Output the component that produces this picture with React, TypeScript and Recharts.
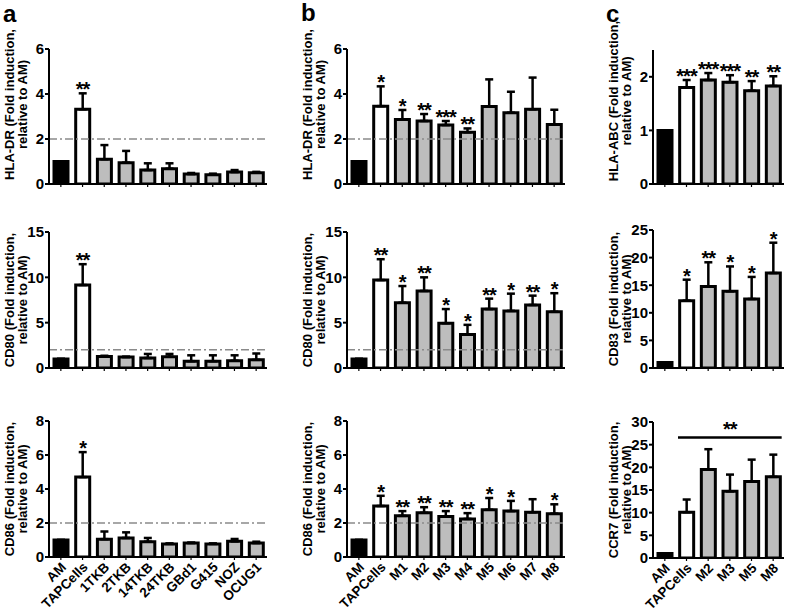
import React from 'react';
import { ComposedChart, Bar, Line, XAxis, YAxis, Cell, ErrorBar, LabelList, ReferenceLine } from 'recharts';

const FONT = "Arial, 'Liberation Sans', Helvetica, sans-serif";

// categories
const groupA = ['AM', 'TAPCells', '1TKB', '2TKB', '14TKB', '24TKB', 'GBd1', 'G415', 'NOZ', 'OCUG1'];
const groupB = ['AM', 'TAPCells', 'M1', 'M2', 'M3', 'M4', 'M5', 'M6', 'M7', 'M8'];
const groupC = ['AM', 'TAPCells', 'M2', 'M3', 'M5', 'M8'];

// panel a (mean, top of error bar, significance)
const aHlaDr = [1.0, 3.32, 1.1, 0.95, 0.62, 0.68, 0.44, 0.41, 0.53, 0.5];
const aHlaDrHi = [1.0, 4.03, 1.73, 1.47, 0.92, 0.92, 0.49, 0.46, 0.62, 0.54];
const aHlaDrSig = ['', '**', '', '', '', '', '', '', '', ''];
const aCd80 = [1.0, 9.15, 1.28, 1.2, 1.1, 1.25, 0.75, 0.75, 0.8, 0.9];
const aCd80Hi = [1.0, 11.45, 1.35, 1.25, 1.55, 1.55, 1.4, 1.4, 1.4, 1.6];
const aCd80Sig = ['', '**', '', '', '', '', '', '', '', ''];
const aCd86 = [1.0, 4.7, 1.05, 1.12, 0.9, 0.77, 0.82, 0.77, 0.92, 0.82];
const aCd86Hi = [1.0, 6.17, 1.5, 1.45, 1.12, 0.8, 0.85, 0.8, 1.06, 0.9];
const aCd86Sig = ['', '*', '', '', '', '', '', '', '', ''];

// panel b
const bHlaDr = [1.0, 3.46, 2.87, 2.8, 2.62, 2.3, 3.44, 3.17, 3.32, 2.65];
const bHlaDrHi = [1.0, 4.34, 3.29, 3.11, 2.8, 2.47, 4.65, 4.1, 4.73, 3.3];
const bHlaDrSig = ['', '*', '*', '**', '***', '**', '', '', '', ''];
const bCd80 = [1.0, 9.7, 7.2, 8.5, 4.94, 3.7, 6.5, 6.3, 6.95, 6.2];
const bCd80Hi = [1.0, 12.0, 9.04, 10.0, 6.5, 4.76, 7.65, 8.2, 7.98, 8.25];
const bCd80Sig = ['', '**', '*', '**', '*', '*', '**', '*', '**', '*'];
const bCd86 = [1.0, 3.0, 2.42, 2.6, 2.38, 2.24, 2.78, 2.7, 2.63, 2.55];
const bCd86Hi = [1.0, 3.6, 2.7, 2.93, 2.7, 2.58, 3.47, 3.3, 3.4, 3.1];
const bCd86Sig = ['', '*', '**', '**', '**', '**', '*', '*', '', '*'];

// panel c
const cHlaAbc = [1.0, 1.8, 1.94, 1.9, 1.74, 1.83];
const cHlaAbcHi = [1.0, 1.94, 2.07, 2.03, 1.92, 2.01];
const cHlaAbcSig = ['', '***', '***', '***', '**', '**'];
const cCd83 = [1.0, 12.2, 14.75, 13.9, 12.5, 17.2];
const cCd83Hi = [1.0, 16.0, 19.15, 18.4, 16.5, 22.7];
const cCd83Sig = ['', '*', '**', '*', '*', '*'];
const cCcr7 = [1.0, 10.1, 19.5, 14.7, 16.9, 17.9];
const cCcr7Hi = [1.0, 12.9, 24.0, 18.4, 21.7, 22.8];
const cCcr7Sig = ['', '', '', '', '', ''];
const cCcr7Bracket = { from: 'TAPCells', to: 'M8', level: 26.6, text: '**' };

// y axis ticks
const ticks6 = [0, 2, 4, 6];
const ticks15 = [0, 5, 10, 15];
const ticks8 = [0, 2, 4, 6, 8];
const ticksAbc = [0, 1, 2];
const ticks25 = [0, 5, 10, 15, 20, 25];
const ticks30 = [0, 5, 10, 15, 20, 25, 30];

const fillFor = (name: string) => (name === 'AM' ? '#000' : name === 'TAPCells' ? '#fff' : '#bdbdbd');

const buildRows = (names: string[], vals: number[], hi: number[], sig: string[]) =>
  names.map((name, i) => ({
    name,
    value: vals[i],
    err: [0, Math.max(hi[i] - vals[i], 0)],
    top: hi[i],
    sig: sig[i],
  }));

const StarLabel = (props: any) => {
  const { x, y, value } = props;
  if (!value) return null;
  return (
    <text x={x} y={y + 3} textAnchor="middle" fontSize={20} fontWeight="bold" fontFamily={FONT} fill="#000" letterSpacing={-1}>
      {value}
    </text>
  );
};

const NoTick = () => <g />;

const SlantTick = ({ x, y, payload }: any) => {
  const tx = x + 6;
  const ty = y + 6;
  return (
    <text x={tx} y={ty} transform={`rotate(-45 ${tx} ${ty})`} textAnchor="end" fontSize={13.5} fontWeight="bold" fontFamily={FONT} fill="#000">
      {payload.value}
    </text>
  );
};

interface PanelProps {
  rows: any[];
  left: number;
  top: number;
  width: number;
  height: number;
  axisX: number;
  plotTop: number;
  plotBottom: number;
  plotRight: number;
  max: number;
  ticks: number[];
  title: string;
  labelShift?: number;
  slanted?: boolean;
  cutoff?: boolean;
  bracket?: { from: string; to: string; level: number; text: string };
}

const Panel = ({ rows, left, top, width, height, axisX, plotTop, plotBottom, plotRight, max, ticks, title, labelShift = 0, slanted, cutoff, bracket }: PanelProps) => {
  const yAxisWidth = axisX - left;
  const xAxisHeight = top + height - plotBottom;
  const midY = (plotTop + plotBottom) / 2 - top + labelShift;

  const AxisTitle = () => (
    <g fontFamily={FONT} fontWeight="bold" fontSize={13} fill="#000">
      <text x={yAxisWidth - 40} y={midY} transform={`rotate(-90 ${yAxisWidth - 40} ${midY})`} textAnchor="middle" dominantBaseline="central">
        {title}
      </text>
      <text x={yAxisWidth - 27} y={midY} transform={`rotate(-90 ${yAxisWidth - 27} ${midY})`} textAnchor="middle" dominantBaseline="central">
        relative to AM)
      </text>
    </g>
  );

  const BracketShape = (p: any) => {
    const x1 = p.x1 - 8.5;
    const x2 = p.x2 + 8.5;
    return (
      <g>
        <line x1={x1} x2={x2} y1={p.y1} y2={p.y2} stroke="#000" strokeWidth={2.5} />
        <text x={(x1 + x2) / 2} y={p.y1 - 1} textAnchor="middle" fontSize={20} fontWeight="bold" fontFamily={FONT} letterSpacing={-1}>
          {bracket?.text}
        </text>
      </g>
    );
  };

  return (
    <div style={{ position: 'absolute', left, top, width, height }}>
      <ComposedChart width={width} height={height} data={rows} margin={{ top: plotTop - top, right: left + width - plotRight, left: 0, bottom: 0 }}>
        <XAxis
          dataKey="name"
          type="category"
          height={xAxisHeight}
          padding={{ left: 1, right: 0 }}
          axisLine={{ stroke: '#000', strokeWidth: 2 }}
          tickLine={{ stroke: '#000', strokeWidth: 1.2 }}
          tickSize={3}
          interval={0}
          tick={slanted ? <SlantTick /> : <NoTick />}
        />
        <YAxis
          type="number"
          domain={[0, max]}
          ticks={ticks}
          interval={0}
          allowDataOverflow
          width={yAxisWidth}
          axisLine={{ stroke: '#000', strokeWidth: 2 }}
          tickLine={{ stroke: '#000', strokeWidth: 2 }}
          tickSize={4}
          tickMargin={1}
          tick={{ fill: '#000', fontSize: 15, fontWeight: 'bold', fontFamily: FONT }}
          label={<AxisTitle />}
        />
        <Bar dataKey="value" barSize={14} stroke="#000" strokeWidth={3} isAnimationActive={false}>
          {rows.map((r) => (
            <Cell key={r.name} fill={fillFor(r.name)} />
          ))}
          <ErrorBar dataKey="err" direction="y" width={4} stroke="#000" strokeWidth={2.5} />
        </Bar>
        {cutoff && <ReferenceLine y={2} stroke="#8a8a8a" strokeWidth={1.5} strokeDasharray="8 3 2 3" />}
        <Line dataKey="top" stroke="none" dot={false} activeDot={false} isAnimationActive={false} legendType="none">
          <LabelList dataKey="sig" content={<StarLabel />} />
        </Line>
        {bracket && (
          <ReferenceLine
            segment={[{ x: bracket.from, y: bracket.level }, { x: bracket.to, y: bracket.level }]}
            shape={<BracketShape />}
          />
        )}
      </ComposedChart>
    </div>
  );
};

const Letter = ({ text, left, top }: { text: string; left: number; top: number }) => (
  <div style={{ position: 'absolute', left, top, fontFamily: FONT, fontWeight: 'bold', fontSize: 24, lineHeight: 1, color: '#000' }}>{text}</div>
);

const ROW1 = { top: 0, height: 196, plotTop: 49, plotBottom: 184 };
const ROW2 = { top: 198, height: 182, plotTop: 232, plotBottom: 368 };
const ROW3 = { top: 384, height: 229, plotTop: 421, plotBottom: 557 };
const COLA = { left: 0, width: 272, axisX: 49, plotRight: 267 };
const COLB = { left: 290, width: 280, axisX: 347, plotRight: 565 };
const COLC = { left: 596, width: 191, axisX: 653, plotRight: 784 };

export default function App() {
  return (
    <div style={{ position: 'absolute', left: 0, top: 0, width: 787, height: 613, background: '#fff', overflow: 'hidden' }}>
      <Letter text="a" left={3} top={2} />
      <Letter text="b" left={301} top={1} />
      <Letter text="c" left={606} top={2} />

      <Panel {...COLA} {...ROW1} rows={buildRows(groupA, aHlaDr, aHlaDrHi, aHlaDrSig)} max={6} ticks={ticks6} title="HLA-DR (Fold induction," labelShift={-12} cutoff />
      <Panel {...COLA} {...ROW2} rows={buildRows(groupA, aCd80, aCd80Hi, aCd80Sig)} max={15} ticks={ticks15} title="CD80 (Fold induction," cutoff />
      <Panel {...COLA} {...ROW3} rows={buildRows(groupA, aCd86, aCd86Hi, aCd86Sig)} max={8} ticks={ticks8} title="CD86 (Fold induction," slanted cutoff />

      <Panel {...COLB} {...ROW1} rows={buildRows(groupB, bHlaDr, bHlaDrHi, bHlaDrSig)} max={6} ticks={ticks6} title="HLA-DR (Fold induction," labelShift={-12} cutoff />
      <Panel {...COLB} {...ROW2} rows={buildRows(groupB, bCd80, bCd80Hi, bCd80Sig)} max={15} ticks={ticks15} title="CD80 (Fold induction," cutoff />
      <Panel {...COLB} {...ROW3} rows={buildRows(groupB, bCd86, bCd86Hi, bCd86Sig)} max={8} ticks={ticks8} title="CD86 (Fold induction," slanted cutoff />

      <Panel {...COLC} {...ROW1} plotTop={50} rows={buildRows(groupC, cHlaAbc, cHlaAbcHi, cHlaAbcSig)} max={2.5} ticks={ticksAbc} title="HLA-ABC (Fold induction," labelShift={-16} />
      <Panel {...COLC} {...ROW2} plotTop={230} rows={buildRows(groupC, cCd83, cCd83Hi, cCd83Sig)} max={25} ticks={ticks25} title="CD83 (Fold induction," />
      <Panel {...COLC} {...ROW3} plotTop={422} plotBottom={558} rows={buildRows(groupC, cCcr7, cCcr7Hi, cCcr7Sig)} max={30} ticks={ticks30} title="CCR7 (Fold induction," slanted bracket={cCcr7Bracket} />
    </div>
  );
}
